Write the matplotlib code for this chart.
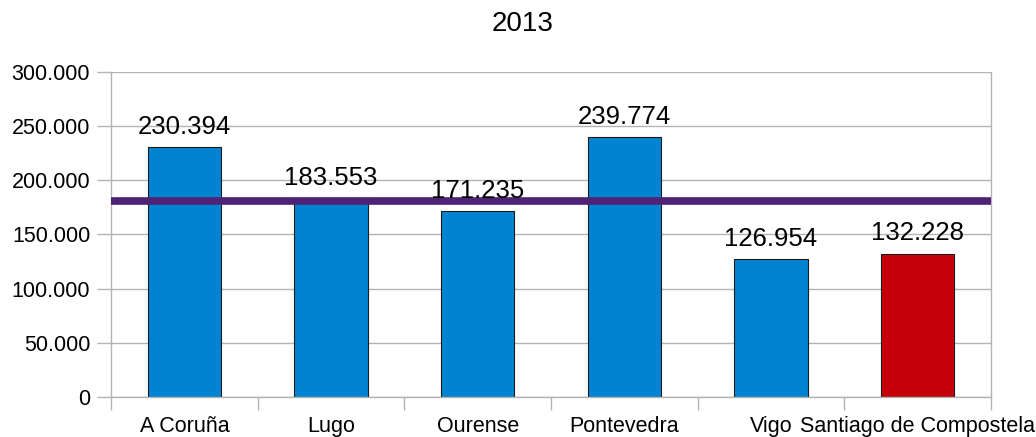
import matplotlib
matplotlib.use("Agg")
import matplotlib.pyplot as plt
from matplotlib.ticker import FuncFormatter

categories = ["A Coruña", "Lugo", "Ourense", "Pontevedra", "Vigo", "Santiago de Compostela"]
values = [230394, 183553, 171235, 239774, 126954, 132228]
bar_colors = ["#0084d1", "#0084d1", "#0084d1", "#0084d1", "#0084d1", "#c5000b"]
average = sum(values) / len(values)
title = "2013"

plt.rcParams['font.family'] = ['Liberation Sans', 'DejaVu Sans']

fig = plt.figure(figsize=(10.36, 4.37), dpi=100)
ax = fig.add_axes([111/1036, 1 - 397/437, 880/1036, 325/437])

x = list(range(len(categories)))
ax.bar(x, values, width=0.5, color=bar_colors, edgecolor="#1a1a1a", linewidth=0.8, zorder=2)
ax.axhline(average, color="#4e2376", linewidth=5.5, zorder=3)

def fmt(v):
    return f"{int(round(v)):,}".replace(",", ".")

for xi, v in zip(x, values):
    ax.annotate(fmt(v), (xi, v), xytext=(0, 6), textcoords="offset points",
                ha="center", va="bottom", fontsize=18.5, color="black", zorder=4)

ax.set_xlim(-0.5, len(categories) - 0.5)
ax.set_ylim(0, 300000)
ax.set_yticks(range(0, 300001, 50000))
ax.yaxis.set_major_formatter(FuncFormatter(lambda v, p: fmt(v)))
ax.grid(axis="y", color="#b3b3b3", linewidth=1, zorder=0)
ax.set_axisbelow(True)

ax.set_xticks(x)
ax.set_xticklabels(categories, fontsize=15.5)
ax.set_xticks([i + 0.5 for i in range(-1, len(categories))], minor=True)
ax.tick_params(axis="x", which="major", length=0, pad=13.5)
ax.tick_params(axis="x", which="minor", length=9, color="#b3b3b3", width=1)
ax.tick_params(axis="y", length=10, color="#b3b3b3", width=1, labelsize=15.5, pad=5)

for s in ["left", "right", "bottom"]:
    ax.spines[s].set_color("#b3b3b3")
    ax.spines[s].set_linewidth(1)
ax.spines["top"].set_visible(False)

fig.text(523/1036, 1 - 24/437, title, ha="center", va="center", fontsize=20)

fig.savefig("out.png", dpi=100)
